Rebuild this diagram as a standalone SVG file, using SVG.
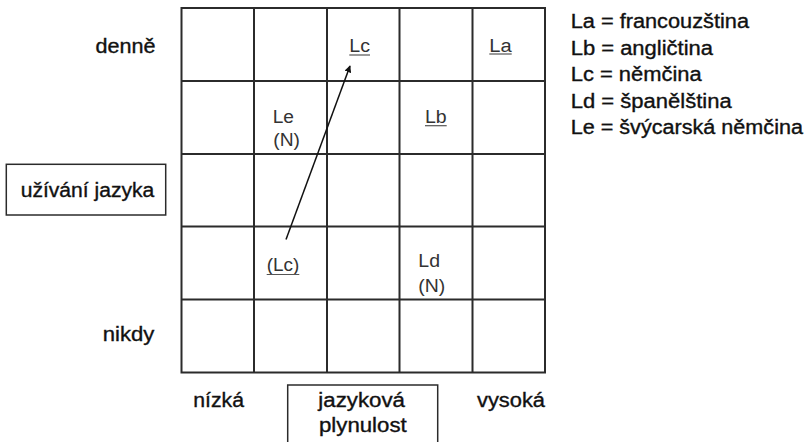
<svg xmlns="http://www.w3.org/2000/svg" width="807" height="442" viewBox="0 0 807 442">
<style>
.grid{stroke:#2b2b2b;stroke-width:2;fill:none}
.box{stroke:#2b2b2b;stroke-width:1.5;fill:#fff}
.lab{font-family:"Liberation Sans",Arial,sans-serif;font-size:19.5px;fill:#111;stroke:#111;stroke-width:0.35}
.cell{font-family:"Liberation Sans",Arial,sans-serif;font-size:18px;fill:#333}
.ul{stroke:#555;stroke-width:1.2}
.conn{stroke:#111;stroke-width:1.5;fill:none}
</style>
<defs>
<marker id="ah" viewBox="0 0 10 10" refX="9" refY="5" markerWidth="7" markerHeight="7" orient="auto" markerUnits="userSpaceOnUse">
<path d="M0,0 L10,5 L0,10 z" fill="#111"/>
</marker>
</defs>
<rect width="807" height="442" fill="#fff"/>
<g id="grid" class="grid">
<rect x="181.5" y="8" width="363.5" height="364.5"/>
<line x1="254" y1="8" x2="254" y2="372.5"/>
<line x1="327" y1="8" x2="327" y2="372.5"/>
<line x1="399.5" y1="8" x2="399.5" y2="372.5"/>
<line x1="472.5" y1="8" x2="472.5" y2="372.5"/>
<line x1="181.5" y1="81" x2="545" y2="81"/>
<line x1="181.5" y1="154" x2="545" y2="154"/>
<line x1="181.5" y1="226.5" x2="545" y2="226.5"/>
<line x1="181.5" y1="299.5" x2="545" y2="299.5"/>
</g>
<g id="cell-Lc-top">
<text class="cell" x="349.3" y="52.3" textLength="20.7" lengthAdjust="spacingAndGlyphs">Lc</text>
<line class="ul" x1="349.3" y1="55" x2="370" y2="55"/>
</g>
<g id="cell-La">
<text class="cell" x="489.3" y="51.7" textLength="22.4" lengthAdjust="spacingAndGlyphs">La</text>
<line class="ul" x1="489.3" y1="54" x2="511.7" y2="54"/>
</g>
<g id="cell-Le">
<text class="cell" x="272.7" y="122.5" textLength="21.3" lengthAdjust="spacingAndGlyphs">Le</text>
<text class="cell" x="273.3" y="146" textLength="26.7" lengthAdjust="spacingAndGlyphs">(N)</text>
</g>
<g id="cell-Lb">
<text class="cell" x="425" y="123" textLength="21.7" lengthAdjust="spacingAndGlyphs">Lb</text>
<line class="ul" x1="425" y1="125.7" x2="446.7" y2="125.7"/>
</g>
<g id="cell-Lc-bottom">
<text class="cell" x="266.7" y="271" textLength="32.6" lengthAdjust="spacingAndGlyphs">(Lc)</text>
<line class="ul" x1="266.7" y1="274.5" x2="299.3" y2="274.5"/>
</g>
<g id="cell-Ld">
<text class="cell" x="418.3" y="267.3" textLength="21.7" lengthAdjust="spacingAndGlyphs">Ld</text>
<text class="cell" x="418.3" y="291.7" textLength="27" lengthAdjust="spacingAndGlyphs">(N)</text>
</g>
<g id="connectors">
<line class="conn" x1="286" y1="239.5" x2="350" y2="66" marker-end="url(#ah)"/>
</g>
<g id="label-denne">
<text class="lab" x="95.5" y="52.8" textLength="60" lengthAdjust="spacingAndGlyphs">denně</text>
</g>
<g id="label-uzivani">
<rect class="box" x="6.3" y="164.3" width="159.4" height="50.7"/>
<text class="lab" x="20.7" y="196.7" textLength="133.6" lengthAdjust="spacingAndGlyphs">užívání jazyka</text>
</g>
<g id="label-nikdy">
<text class="lab" x="102.7" y="340.7" textLength="51.6" lengthAdjust="spacingAndGlyphs">nikdy</text>
</g>
<g id="label-nizka">
<text class="lab" x="193.3" y="406.7" textLength="50.7" lengthAdjust="spacingAndGlyphs">nízká</text>
</g>
<g id="label-plynulost">
<rect class="box" x="287.7" y="385" width="150" height="70"/>
<text class="lab" x="318.3" y="406.7" textLength="86.7" lengthAdjust="spacingAndGlyphs">jazyková</text>
<text class="lab" x="319" y="431.7" textLength="87.7" lengthAdjust="spacingAndGlyphs">plynulost</text>
</g>
<g id="label-vysoka">
<text class="lab" x="477" y="406.7" textLength="68" lengthAdjust="spacingAndGlyphs">vysoká</text>
</g>
<g id="legend">
<text class="lab" x="570.7" y="28.3" textLength="178.3" lengthAdjust="spacingAndGlyphs">La = francouzština</text>
<text class="lab" x="570.7" y="54.8" textLength="142.3" lengthAdjust="spacingAndGlyphs">Lb = angličtina</text>
<text class="lab" x="570.7" y="81.3" textLength="131" lengthAdjust="spacingAndGlyphs">Lc = němčina</text>
<text class="lab" x="570.7" y="107.8" textLength="161" lengthAdjust="spacingAndGlyphs">Ld = španělština</text>
<text class="lab" x="570.7" y="134.3" textLength="232.3" lengthAdjust="spacingAndGlyphs">Le = švýcarská němčina</text>
</g>
</svg>
